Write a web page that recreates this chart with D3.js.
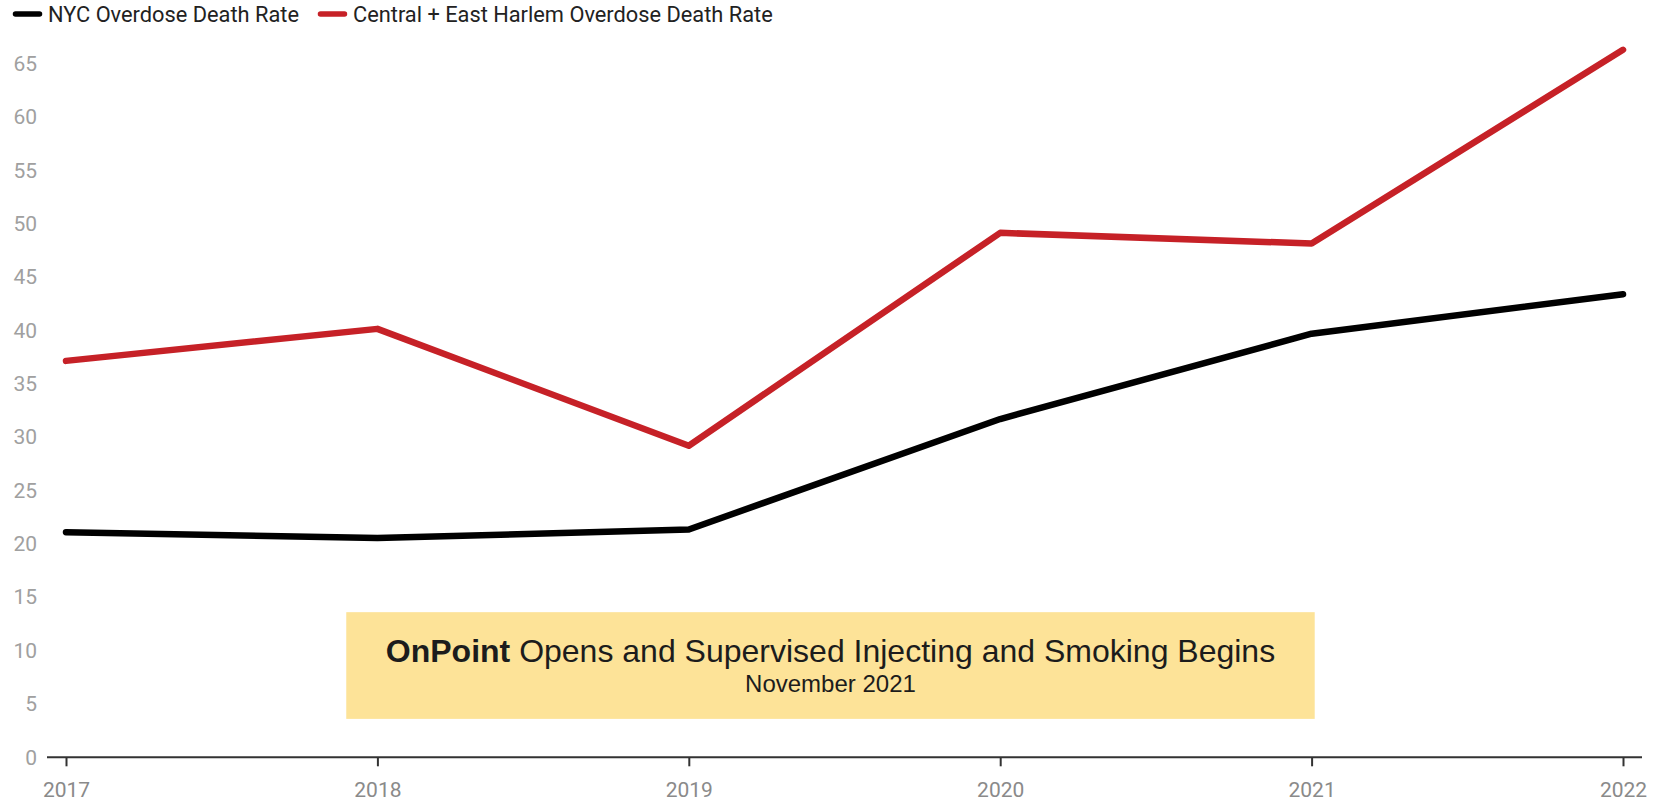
<!DOCTYPE html>
<html>
<head>
<meta charset="utf-8">
<script src="https://cdn.jsdelivr.net/npm/d3@7"></script>
<style>
  html, body { margin: 0; padding: 0; background: #fff; }
  svg { display: block; }
</style>
</head>
<body>
<svg id="chart" width="1663" height="802"></svg>
<script>
// ---- Data ----
const years = [2017, 2018, 2019, 2020, 2021, 2022];
const nycRate = [21.1, 20.55, 21.35, 31.7, 39.7, 43.4];
const harlemRate = [37.15, 40.15, 29.2, 49.15, 48.15, 66.3];
const yTicks = [0, 5, 10, 15, 20, 25, 30, 35, 40, 45, 50, 55, 60, 65];
const seriesNames = ["NYC Overdose Death Rate", "Central + East Harlem Overdose Death Rate"];
const seriesColors = ["#000000", "#c62127"];
const annotationBold = "OnPoint";
const annotationRest = " Opens and Supervised Injecting and Smoking Begins";
const annotationSub = "November 2021";
const annotationYears = [2017.9, 2021.01];  // horizontal span of the note box (in year units)
const annotationValues = [13.6, 3.6];       // vertical span of the note box (in rate units)

// ---- Layout ----
const svg = d3.select("#chart");
const x = d3.scaleLinear().domain([2017, 2022]).range([66, 1623]);
const y = d3.scaleLinear().domain([0, 65]).range([757.3, 63.7]);

// ---- Annotation box ----
const boxG = svg.append("g");
boxG.append("rect")
  .attr("x", x(annotationYears[0]))
  .attr("y", y(annotationValues[0]))
  .attr("width", x(annotationYears[1]) - x(annotationYears[0]))
  .attr("height", y(annotationValues[1]) - y(annotationValues[0]))
  .attr("fill", "#fde398");
const boxCx = (x(annotationYears[0]) + x(annotationYears[1])) / 2;
const t1 = boxG.append("text")
  .attr("x", boxCx).attr("y", 662)
  .attr("text-anchor", "middle")
  .attr("font-family", "'Liberation Sans', Arial, sans-serif")
  .attr("font-size", 32)
  .attr("fill", "#1c1c1c");
t1.append("tspan").attr("font-weight", "bold").text(annotationBold);
t1.append("tspan").text(annotationRest);
boxG.append("text")
  .attr("x", boxCx).attr("y", 692)
  .attr("text-anchor", "middle")
  .attr("font-family", "'Liberation Sans', Arial, sans-serif")
  .attr("font-size", 24)
  .attr("fill", "#1c1c1c")
  .text(annotationSub);

// ---- Y axis (labels only) ----
const yAxis = svg.append("g")
  .attr("transform", "translate(40,0)")
  .call(d3.axisLeft(y).tickValues(yTicks).tickSize(0).tickPadding(3));
yAxis.select(".domain").remove();
yAxis.selectAll("text")
  .attr("font-family", "Roboto, sans-serif")
  .attr("font-size", 21)
  .attr("fill", "#a0a0a0");

// ---- X axis ----
const xAxis = svg.append("g")
  .attr("transform", `translate(0,${y(0)})`)
  .call(d3.axisBottom(x).tickValues(years).tickFormat(d3.format("d")).tickSize(9).tickPadding(16).tickSizeOuter(0));
xAxis.select(".domain").remove();
xAxis.insert("line", ":first-child")
  .attr("x1", x.range()[0] - 19).attr("x2", x.range()[1] + 19)
  .attr("y1", 0).attr("y2", 0)
  .attr("stroke", "#333").attr("stroke-width", 2);
xAxis.selectAll(".tick line").attr("stroke", "#333").attr("stroke-width", 2);
xAxis.selectAll("text")
  .attr("font-family", "Roboto, sans-serif")
  .attr("font-size", 21)
  .attr("fill", "#8a8a8a");

// ---- Lines ----
const line = d3.line().x((d, i) => x(years[i])).y(d => y(d));
[nycRate, harlemRate].forEach((vals, k) => {
  svg.append("path")
    .datum(vals)
    .attr("d", line)
    .attr("fill", "none")
    .attr("stroke", seriesColors[k])
    .attr("stroke-width", 6.5)
    .attr("stroke-linecap", "round")
    .attr("stroke-linejoin", "round");
});

// ---- Legend ----
const legend = svg.append("g").attr("transform", "translate(13,14)");
let lx = 0;
seriesNames.forEach((name, k) => {
  const g = legend.append("g").attr("transform", `translate(${lx},0)`);
  g.append("line")
    .attr("x1", 2.5).attr("x2", 26.5).attr("y1", 0).attr("y2", 0)
    .attr("stroke", seriesColors[k]).attr("stroke-width", 5.5)
    .attr("stroke-linecap", "round");
  const t = g.append("text")
    .attr("x", 35).attr("y", 7.5)
    .attr("font-family", "Roboto, sans-serif")
    .attr("font-size", 21.8)
    .attr("fill", "#222")
    .text(name);
  lx += 35 + t.node().getComputedTextLength() + 19;
});
</script>
</body>
</html>
